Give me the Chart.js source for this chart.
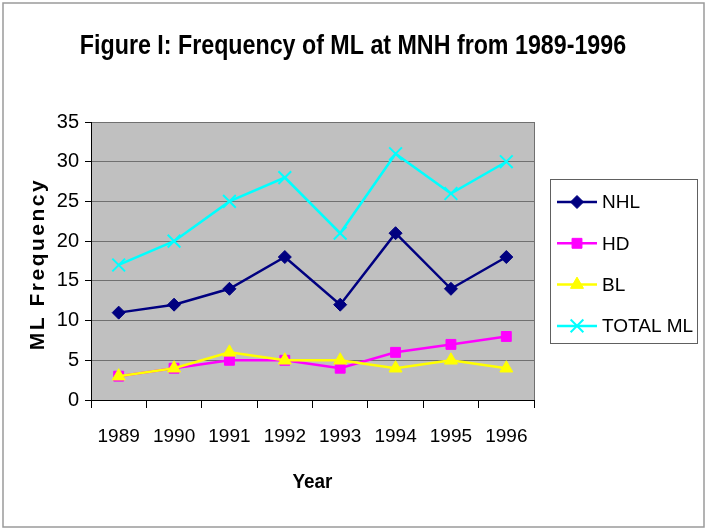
<!DOCTYPE html>
<html>
<head>
<meta charset="utf-8">
<title>Frequency of ML at MNH</title>
<script src="https://cdn.jsdelivr.net/npm/chart.js@4/dist/chart.umd.min.js"></script>
<style>
    html, body { margin: 0; padding: 0; background: #ffffff; }
    #chart-wrap { width: 706px; height: 531px; }
</style>
</head>
<body>
<div id="chart-wrap"><canvas id="mlChart" width="706" height="531"></canvas></div>
<script>
// --- data ---
const years = ['1989', '1990', '1991', '1992', '1993', '1994', '1995', '1996'];
const seriesNames = ['NHL', 'HD', 'BL', 'TOTAL ML'];
const nhlValues = [11, 12, 14, 18, 12, 21, 14, 18];
const hdValues = [3, 4, 5, 5, 4, 6, 7, 8];
const blValues = [3, 4, 6, 5, 5, 4, 5, 4];
const totalValues = [17, 20, 25, 28, 21, 31, 26, 30];
const yMin = 0, yMax = 35, yStep = 5;

const titleText = 'Figure I: Frequency of ML at MNH from 1989-1996';
const xTitle = 'Year';
const yTitle = 'ML Frequency';

const narrowFont = "'Liberation Sans Narrow', 'Arial Narrow', 'Liberation Sans', Arial, sans-serif";

// draw text squeezed horizontally (no narrow face installed)
function squeezedText(ctx, text, x, y, squeeze) {
    ctx.save();
    ctx.translate(x, y);
    ctx.scale(squeeze, 1);
    ctx.fillText(text, 0, 0);
    ctx.restore();
}

// Plot frame: background, outer border, titles and boxed legend
const framePlugin = {
    id: 'frame',
    beforeDraw(chart) {
        const { ctx, chartArea: a } = chart;
        ctx.save();
        ctx.fillStyle = '#ffffff';
        ctx.fillRect(0, 0, chart.width, chart.height);
        ctx.strokeStyle = '#9a9a9a';
        ctx.lineWidth = 1.5;
        ctx.strokeRect(3, 3, chart.width - 5, chart.height - 7);
        ctx.fillStyle = '#c0c0c0';
        ctx.fillRect(a.left, a.top, a.right - a.left, a.bottom - a.top);
        ctx.restore();
    },
    afterDraw(chart) {
        const { ctx, chartArea: a } = chart;
        ctx.save();
        // right edge of plot area
        ctx.strokeStyle = '#707070';
        ctx.lineWidth = 1;
        ctx.beginPath();
        ctx.moveTo(a.right + 0.5, a.top);
        ctx.lineTo(a.right + 0.5, a.bottom);
        ctx.stroke();

        // main title
        ctx.fillStyle = '#000000';
        ctx.textAlign = 'center';
        ctx.textBaseline = 'middle';
        ctx.font = 'bold 28px ' + narrowFont;
        squeezedText(ctx, titleText, 353, 46, 0.83);

        // x title
        ctx.font = 'bold 21px ' + narrowFont;
        squeezedText(ctx, xTitle, (a.left + a.right) / 2, 482, 0.9);

        // y title, letter spaced
        ctx.translate(38, (a.top + a.bottom) / 2 + 3);
        ctx.rotate(-Math.PI / 2);
        ctx.font = 'bold 21px ' + narrowFont;
        ctx.letterSpacing = '2.5px';
        ctx.fillText(yTitle, 0, 0);
        ctx.restore();

        // legend
        ctx.save();
        ctx.strokeStyle = '#606060';
        ctx.lineWidth = 1;
        ctx.strokeRect(550.5, 179.5, 147, 164);
        chart.data.datasets.forEach((ds, i) => {
            const y = 202 + i * 41.3;
            ctx.strokeStyle = ds.borderColor;
            ctx.lineWidth = 2.5;
            ctx.beginPath();
            ctx.moveTo(557, y);
            ctx.lineTo(597, y);
            ctx.stroke();
            ctx.fillStyle = ds.pointBackgroundColor;
            ctx.strokeStyle = ds.pointBorderColor;
            ctx.lineWidth = ds.pointBorderWidth;
            Chart.helpers.drawPoint(ctx, {
                pointStyle: ds.pointStyle,
                radius: ds.pointRadius,
                rotation: 0,
                borderWidth: ds.pointBorderWidth
            }, 577, y);
            ctx.fillStyle = '#000000';
            ctx.textAlign = 'left';
            ctx.textBaseline = 'middle';
            ctx.font = '19px ' + narrowFont;
            ctx.fillText(ds.label, 602, y + 1);
        });
        ctx.restore();
    }
};

function makeSeries(label, values, color, style, radius, order) {
    const isCross = style === 'crossRot';
    return {
        label: label,
        data: values,
        borderColor: color,
        backgroundColor: color,
        borderWidth: 2.5,
        pointStyle: style,
        pointRadius: radius,
        pointHoverRadius: radius,
        pointBackgroundColor: color,
        pointBorderColor: color,
        pointBorderWidth: isCross ? 2 : 1,
        tension: 0,
        order: order
    };
}

const ctx = document.getElementById('mlChart').getContext('2d');
new Chart(ctx, {
    type: 'line',
    data: {
        labels: years,
        datasets: [
            makeSeries(seriesNames[0], nhlValues, '#000080', 'rectRot', 6.5, 4),
            makeSeries(seriesNames[1], hdValues, '#ff00ff', 'rect', 7, 3),
            makeSeries(seriesNames[2], blValues, '#ffff00', 'triangle', 7.5, 2),
            makeSeries(seriesNames[3], totalValues, '#00ffff', 'crossRot', 9, 1)
        ]
    },
    options: {
        responsive: false,
        animation: false,
        devicePixelRatio: 1,
        layout: {
            padding: { top: 122, right: 172, bottom: 0, left: 0 }
        },
        plugins: {
            legend: { display: false },
            title: { display: false },
            tooltip: { enabled: false }
        },
        scales: {
            x: {
                offset: true,
                grid: {
                    offset: true,
                    drawOnChartArea: false,
                    drawTicks: true,
                    tickLength: 8,
                    tickColor: '#000000'
                },
                border: { color: '#000000', width: 1 },
                ticks: {
                    color: '#000000',
                    font: { family: narrowFont, size: 19 },
                    padding: 17,
                    maxRotation: 0
                },
                afterFit(scale) { scale.height = 131; }
            },
            y: {
                min: yMin,
                max: yMax,
                grid: {
                    color: '#707070',
                    tickColor: '#000000',
                    tickLength: 6
                },
                border: { color: '#000000', width: 1 },
                ticks: {
                    stepSize: yStep,
                    color: '#000000',
                    font: { family: narrowFont, size: 20 },
                    padding: 6
                },
                afterFit(scale) { scale.width = 91; }
            }
        }
    },
    plugins: [framePlugin]
});
</script>
</body>
</html>
